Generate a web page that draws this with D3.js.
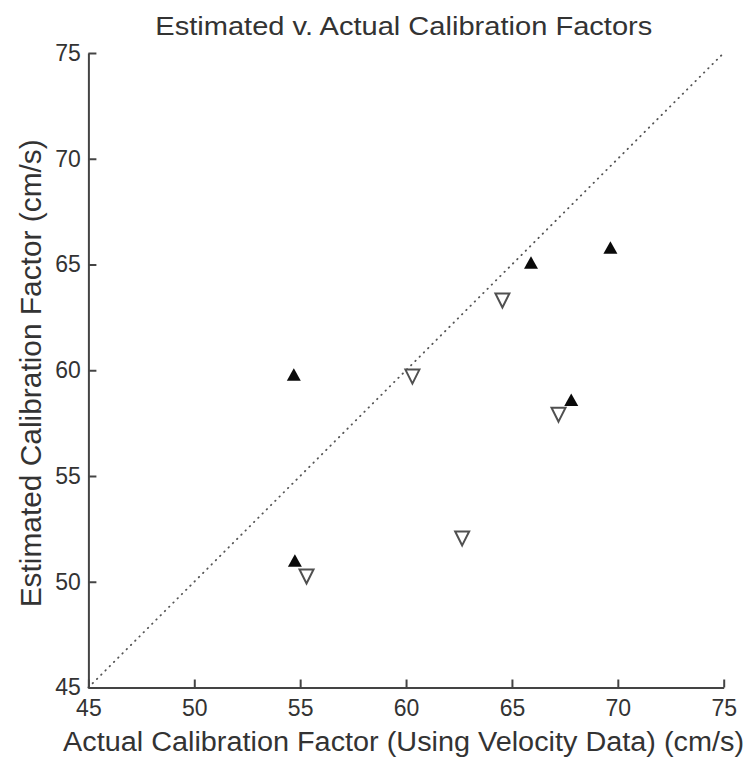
<!DOCTYPE html>
<html>
<head>
<meta charset="utf-8">
<script src="https://cdn.jsdelivr.net/npm/d3@7"></script>
<style>
    html, body { margin: 0; padding: 0; background: #fff; }
    svg { display: block; font-family: "Liberation Sans", Arial, sans-serif; }
</style>
</head>
<body>
<script>
;(() => {
    var width = 752, height = 764; // svg dimensions

    // data
    var xTicks = [45, 50, 55, 60, 65, 70, 75],
        yTicks = [45, 50, 55, 60, 65, 70, 75];
    var filledX = [54.7, 54.75, 65.9, 69.65, 67.8], // filled up-triangles
        filledY = [59.8, 51.0, 65.1, 65.8, 58.6];
    var openX = [60.3, 55.3, 62.65, 64.55, 67.2], // open down-triangles
        openY = [59.7, 50.25, 52.05, 63.3, 57.9];
    var unityLine = [45, 75]; // y = x reference

    var titleText = 'Estimated v. Actual Calibration Factors',
        xLabel = 'Actual Calibration Factor (Using Velocity Data) (cm/s)',
        yLabel = 'Estimated Calibration Factor (cm/s)';

    var margin = { left: 88.4, right: 28.3, top: 53, bottom: 76.5 };
    var axisColor = '#444', textColor = '#333';

    var svg = d3.select('body')
        .append('svg')
        .attr('width', width)
        .attr('height', height);

    var x = d3.scaleLinear().domain([45, 75]).range([margin.left, width - margin.right]),
        y = d3.scaleLinear().domain([45, 75]).range([height - margin.bottom, margin.top]);

    // triangle centred on its bounding box, dir = 1 up, -1 down
    function tri(w, h, dir) {
        return {
            draw(ctx) {
                ctx.moveTo(0, -dir * h / 2);
                ctx.lineTo(w / 2, dir * h / 2);
                ctx.lineTo(-w / 2, dir * h / 2);
                ctx.closePath();
            }
        };
    }

    // dotted unity line
    svg.append('path')
        .datum(unityLine)
        .attr('d', d3.line().x(d => x(d)).y(d => y(d)))
        .attr('fill', 'none')
        .attr('stroke', '#555')
        .attr('stroke-width', 1.8)
        .attr('stroke-linecap', 'round')
        .attr('stroke-dasharray', '0.5,5.5');

    // axes
    var xAxis = svg.append('g')
        .attr('transform', 'translate(0,' + y(45) + ')')
        .call(d3.axisBottom(x).tickValues(xTicks).tickSizeInner(-8).tickSizeOuter(0).tickPadding(12));
    var yAxis = svg.append('g')
        .attr('transform', 'translate(' + x(45) + ',0)')
        .call(d3.axisLeft(y).tickValues(yTicks).tickSizeInner(-8).tickSizeOuter(0).tickPadding(7.5));

    [xAxis, yAxis].forEach(a => {
        a.attr('font-family', null).attr('font-size', null);
        a.select('.domain').attr('stroke', axisColor).attr('stroke-width', 2);
        a.selectAll('.tick line').attr('stroke', axisColor).attr('stroke-width', 2);
        a.selectAll('.tick text')
            .attr('fill', textColor)
            .style('font-size', '23px');
    });

    // markers
    svg.selectAll('path.filled')
        .data(filledX.map((d, i) => ({ x: d, y: filledY[i] })))
        .enter()
        .append('path')
        .classed('filled', true)
        .attr('d', d3.symbol().type(tri(14, 12.5, 1)))
        .attr('transform', d => 'translate(' + x(d.x) + ',' + y(d.y) + ')')
        .attr('fill', '#0a0a0a');

    svg.selectAll('path.open')
        .data(openX.map((d, i) => ({ x: d, y: openY[i] })))
        .enter()
        .append('path')
        .classed('open', true)
        .attr('d', d3.symbol().type(tri(14, 14, -1)))
        .attr('transform', d => 'translate(' + x(d.x) + ',' + y(d.y) + ')')
        .attr('fill', '#fff')
        .attr('stroke', '#505050')
        .attr('stroke-width', 2)
        .attr('stroke-linejoin', 'miter');

    // title and labels
    svg.append('text')
        .attr('x', 403.8)
        .attr('y', 35)
        .attr('text-anchor', 'middle')
        .attr('fill', textColor)
        .style('font-size', '25px')
        .attr('textLength', 497)
        .attr('lengthAdjust', 'spacingAndGlyphs')
        .text(titleText);

    svg.append('text')
        .attr('x', 403.5)
        .attr('y', 751)
        .attr('text-anchor', 'middle')
        .attr('fill', textColor)
        .style('font-size', '27px')
        .attr('textLength', 681)
        .attr('lengthAdjust', 'spacingAndGlyphs')
        .text(xLabel);

    svg.append('text')
        .attr('transform', 'translate(40.5,373.3) rotate(-90)')
        .attr('text-anchor', 'middle')
        .attr('fill', textColor)
        .style('font-size', '30px')
        .attr('textLength', 468)
        .attr('lengthAdjust', 'spacingAndGlyphs')
        .text(yLabel);
})();
</script>
</body>
</html>
